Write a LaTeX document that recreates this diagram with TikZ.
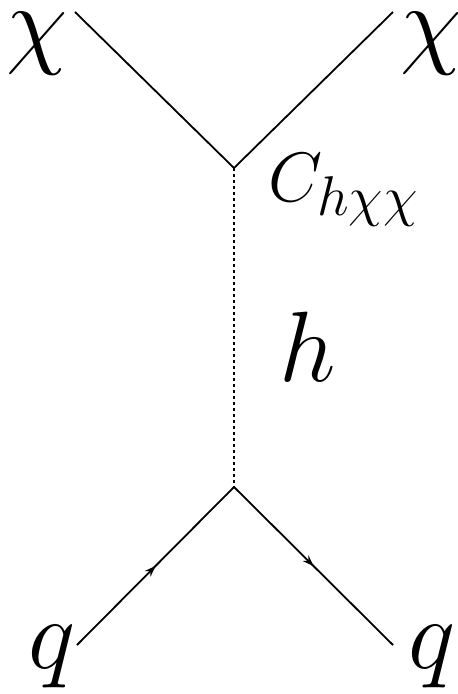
\documentclass[tikz,border=0pt]{standalone}
\usepackage{fix-cm}
\DeclareMathSizes{70}{70}{56}{40}
\usetikzlibrary{arrows.meta,decorations.markings}
\tikzset{
  fermion/.style={line width=1.8pt,postaction={decorate},decoration={markings,
    mark=at position 0.5 with {\arrow{Stealth[length=11pt,width=8pt]}}}},
  plain/.style={line width=1.8pt},
  scalar/.style={line width=1.8pt,dash pattern=on 3pt off 3pt},
  biglab/.style={inner sep=0pt,font=\fontsize{100}{100}\selectfont},
  cplab/.style={inner sep=0pt,font=\fontsize{70}{70}\selectfont}
}
\begin{document}
\begin{tikzpicture}[x=1pt,y=-1pt]
\useasboundingbox (0,0) rectangle (458,694);
\coordinate (vt) at (234,168);
\coordinate (vb) at (234,487);
\coordinate (tl) at (75,12);
\coordinate (tr) at (393,12);
\coordinate (bl) at (77,645);
\coordinate (br) at (393,645);
\draw[plain] (tl) -- (vt) -- (tr);
\draw[scalar] (vt) -- (vb);
\draw[fermion] (bl) -- (vb);
\draw[fermion] (vb) -- (br);
\node[biglab] (chil) at (37,44) {$\chi$};
\node[biglab] (chir) at (431,44) {$\chi$};
\node[biglab] (ql) at (52,657) {$q$};
\node[biglab] (qr) at (432,657) {$q$};
\node[biglab] (h) at (308,347) {$h$};
\node[cplab,anchor=base west] (c) at (268,201) {$C_{h\chi\chi}$};
\end{tikzpicture}
\end{document}
